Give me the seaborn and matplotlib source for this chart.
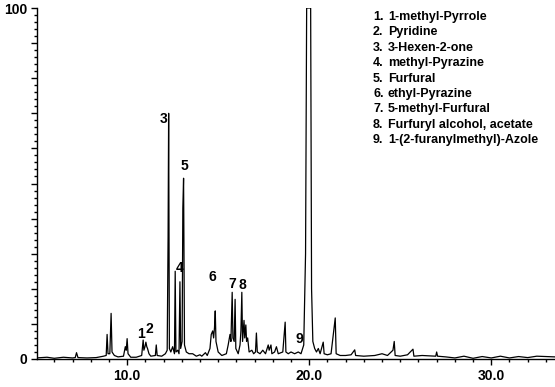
import matplotlib
matplotlib.use("Agg")
import matplotlib.pyplot as plt
import seaborn as sns
import pandas as pd
from matplotlib.ticker import MultipleLocator, FixedLocator

# ---- data (retention time in min, relative abundance %) ----
time = [5.0, 5.6, 6.0, 6.5, 7.0, 7.15, 7.22, 7.3, 7.8, 8.3, 8.7, 8.85, 8.9, 8.95, 9.05, 9.12, 9.17,
        9.3, 9.5, 9.8, 9.9, 9.95, 10.0, 10.05, 10.2, 10.5, 10.8, 10.88, 10.92, 10.98, 11.03, 11.08,
        11.12, 11.2, 11.3, 11.55, 11.6, 11.65, 11.9, 12.1, 12.2, 12.25, 12.28, 12.32, 12.4, 12.5,
        12.6, 12.64, 12.68, 12.78, 12.85, 12.9, 12.94, 13.02, 13.06, 13.1, 13.15, 13.25, 13.4,
        13.6, 13.8, 14.0, 14.1, 14.3, 14.4, 14.55, 14.62, 14.7, 14.75, 14.8, 14.84, 14.88, 15.0,
        15.2, 15.45, 15.55, 15.65, 15.7, 15.77, 15.81, 15.88, 15.93, 15.97, 16.1, 16.2, 16.25,
        16.3, 16.34, 16.42, 16.46, 16.52, 16.56, 16.62, 16.7, 16.85, 16.95, 17.05, 17.1, 17.15,
        17.3, 17.45, 17.6, 17.75, 17.8, 17.9, 17.95, 18.1, 18.2, 18.3, 18.55, 18.68, 18.72, 18.85,
        19.0, 19.2, 19.4, 19.55, 19.7, 19.8, 19.86, 20.08, 20.13, 20.2, 20.3, 20.4, 20.5, 20.6,
        20.77, 20.82, 21.0, 21.2, 21.43, 21.48, 21.7, 22.0, 22.3, 22.5, 22.55, 23.0, 23.6, 24.0,
        24.3, 24.6, 24.67, 24.72, 25.0, 25.4, 25.7, 25.75, 26.2, 26.95, 27.0, 27.05, 27.5, 28.0,
        28.5, 29.0, 29.5, 30.0, 30.5, 31.0, 31.5, 32.0, 32.5, 33.5]
signal = [0.3, 0.5, 0.2, 0.5, 0.3, 0.4, 1.8, 0.4, 0.3, 0.4, 0.8, 1.0, 7.0, 1.5, 1.5, 13.0, 2.0,
          1.0, 0.6, 0.8, 3.5, 2.5, 5.8, 1.5, 0.5, 0.5, 1.0, 5.4, 2.5, 3.5, 4.8, 3.5,
          3.0, 1.5, 0.8, 1.0, 4.0, 1.0, 0.8, 1.5, 2.5, 35.0, 70.0, 3.0, 2.0, 3.5,
          1.5, 25.0, 2.0, 2.5, 1.5, 22.0, 3.0, 5.0, 43.0, 51.5, 4.0, 2.0, 1.5,
          1.5, 0.8, 1.2, 0.8, 1.8, 1.0, 3.0, 7.0, 8.0, 6.0, 9.0, 13.7, 5.0, 2.0,
          1.0, 1.5, 4.0, 7.0, 5.0, 19.0, 6.0, 5.0, 17.0, 3.0, 1.5, 4.0, 8.0,
          19.0, 5.0, 11.0, 6.0, 9.7, 5.0, 6.0, 2.0, 2.5, 1.5, 2.0, 7.4, 2.0,
          1.5, 2.5, 1.5, 4.0, 2.5, 4.0, 1.5, 2.0, 3.5, 1.5, 2.0, 10.5, 2.0, 1.5,
          2.0, 1.5, 2.0, 1.5, 4.0, 30.0, 100.0, 100.0, 20.0, 5.0, 3.0, 2.0, 3.0, 1.5,
          4.8, 1.5, 1.2, 1.5, 11.7, 1.5, 1.0, 1.0, 1.2, 2.6, 1.0, 0.8, 1.0, 1.5,
          1.0, 2.5, 5.0, 1.0, 0.8, 1.2, 2.8, 0.8, 1.0, 0.8, 2.0, 0.8, 0.6, 0.3,
          0.8, 0.2, 0.7, 0.3, 0.8, 0.3, 0.7, 0.4, 0.8, 0.6]

peak_ids = ["1", "2", "3", "4", "5", "6", "7", "8", "9"]
label_time = [10.78, 11.22, 11.98, 12.91, 13.13, 14.67, 15.77, 16.32, 19.45]
label_height = [7.0, 8.5, 68.4, 25.9, 55.0, 23.4, 21.4, 21.1, 5.7]
compounds = ["1-methyl-Pyrrole", "Pyridine", "3-Hexen-2-one", "methyl-Pyrazine", "Furfural",
             "ethyl-Pyrazine", "5-methyl-Furfural", "Furfuryl alcohol, acetate",
             "1-(2-furanylmethyl)-Azole"]
x_major = [10.0, 20.0, 30.0]
x_labels = ["10.0", "20.0", "30.0"]
y_major = [0, 10, 20, 30, 40, 50, 60, 70, 80, 90, 100]
y_labels = ["0", "", "", "", "", "", "", "", "", "", "100"]

df = pd.DataFrame({"time": time, "signal": signal})

sns.set_theme(style="ticks")
plt.rcParams['font.family'] = ['Liberation Sans', 'DejaVu Sans']
plt.rcParams['text.color'] = 'black'
plt.rcParams['xtick.color'] = 'black'
plt.rcParams['ytick.color'] = 'black'
plt.rcParams['axes.edgecolor'] = 'black'

fig = plt.figure(figsize=(5.55, 3.87), dpi=100)
ax = fig.add_axes([37 / 555, 28 / 387, 1 - 37 / 555, 351 / 387])

sns.lineplot(data=df, x="time", y="signal", ax=ax, color="black", linewidth=0.9,
             estimator=None, sort=False)

ax.set_xlim(5.05, 33.5)
ax.set_ylim(0, 100)
ax.set_xlabel("")
ax.set_ylabel("")
for s in ["top", "right"]:
    ax.spines[s].set_visible(False)
for s in ["left", "bottom"]:
    ax.spines[s].set_linewidth(1.0)
    ax.spines[s].set_color("black")

ax.xaxis.set_major_locator(FixedLocator(x_major))
ax.set_xticklabels(x_labels)
ax.xaxis.set_minor_locator(MultipleLocator(1.0))
ax.yaxis.set_major_locator(FixedLocator(y_major))
ax.set_yticklabels(y_labels)
ax.yaxis.set_minor_locator(MultipleLocator(2))
ax.tick_params(axis="both", which="major", length=4, width=1, colors="black",
               labelsize=10, pad=3)
ax.tick_params(axis="both", which="minor", length=2, width=1, colors="black")
for lab in ax.get_xticklabels() + ax.get_yticklabels():
    lab.set_fontweight("bold")
    lab.set_color("black")

for pid, t, h in zip(peak_ids, label_time, label_height):
    ax.text(t, h, pid, ha="center", va="center", fontsize=10, fontweight="bold", color="black")

for i, name in enumerate(compounds):
    y = 1 - (17 + i * 15.4) / 387
    fig.text(373 / 555, y, f"{i + 1}.", ha="left", va="center", fontsize=9,
             fontweight="bold", color="black")
    fig.text(388 / 555, y, name, ha="left", va="center", fontsize=9,
             fontweight="bold", color="black")

fig.savefig("out.png", dpi=100)
